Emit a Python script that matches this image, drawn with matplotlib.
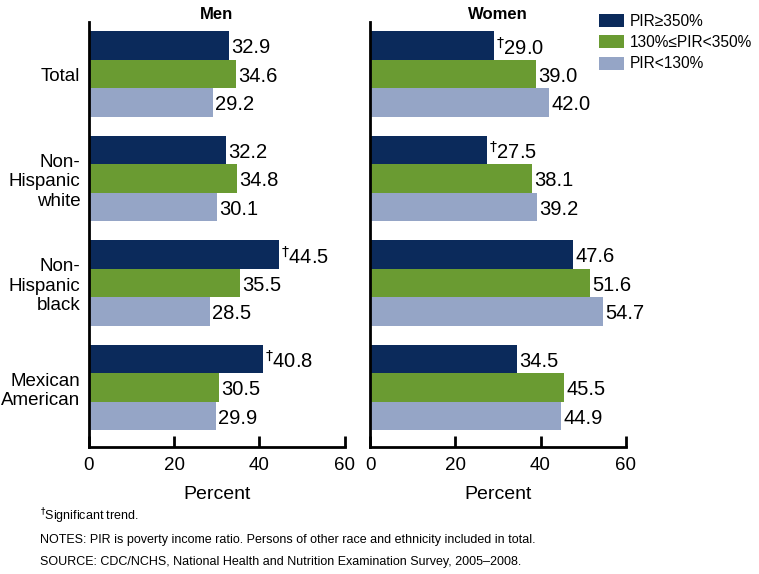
import numpy as np
import matplotlib

matplotlib.use("Agg")

import matplotlib.pyplot as plt
from matplotlib.patches import Patch

plt.rcParams["font.family"] = ["Liberation Sans", "DejaVu Sans"]

groups = ["Total", "Non-\nHispanic\nwhite", "Non-\nHispanic\nblack", "Mexican\nAmerican"]
series = ["PIR\u2265350%", "130%\u2264PIR<350%", "PIR<130%"]
colors = ["#0b2a5b", "#6a9b32", "#95a5c6"]

men = [
    [32.9, 32.2, 44.5, 40.8],
    [34.6, 34.8, 35.5, 30.5],
    [29.2, 30.1, 28.5, 29.9],
]
women = [
    [29.0, 27.5, 47.6, 34.5],
    [39.0, 38.1, 51.6, 45.5],
    [42.0, 39.2, 54.7, 44.9],
]
# True where the value has a significant trend (dagger)
men_sig = [[False, False, True, True], [False] * 4, [False] * 4]
women_sig = [[True, True, False, False], [False] * 4, [False] * 4]

fig = plt.figure(figsize=(7.59, 5.74), dpi=100)
ax_m = fig.add_axes([0.117, 0.221, 0.337, 0.741])
ax_w = fig.add_axes([0.4875, 0.221, 0.337, 0.741])

bar_h = 0.273
y = np.arange(len(groups))

for ax, data, sig, title in [(ax_m, men, men_sig, "Men"), (ax_w, women, women_sig, "Women")]:
    for i, (vals, col) in enumerate(zip(data, colors)):
        pos = y + (i - 1) * bar_h
        ax.barh(pos, vals, height=bar_h, color=col, edgecolor="none")
        for p, v, s in zip(pos, vals, sig[i]):
            lab = f"{v:.1f}"
            if s:
                lab = r"$^{\dagger}$" + lab
            ax.text(v + 0.5, p + 0.02, lab, va="center", ha="left", fontsize=14.5)
    ax.set_xlim(0, 60)
    ax.set_ylim(3.57, -0.5)
    ax.set_xticks([0, 20, 40, 60])
    ax.tick_params(axis="x", direction="in", length=8, width=2, labelsize=13.5, pad=7)
    ax.spines["top"].set_visible(False)
    ax.spines["right"].set_visible(False)
    ax.spines["left"].set_linewidth(2)
    ax.spines["bottom"].set_linewidth(2)
    ax.set_xlabel("Percent", fontsize=14, labelpad=9)
    ax.set_title(title, fontsize=12, fontweight="bold", pad=2)

ax_m.set_yticks(y)
ax_m.set_yticklabels(groups, fontsize=13.5)
ax_m.tick_params(axis="y", length=0, pad=6)
ax_w.set_yticks([])

handles = [Patch(facecolor=c, edgecolor="none") for c in colors]
fig.legend(handles, series, loc="upper left", bbox_to_anchor=(0.771, 1.0),
           frameon=False, fontsize=11.2, handlelength=1.6, handleheight=0.9,
           handletextpad=0.35, labelspacing=0.4)

fig.text(0.053, 0.094, r"$^{\dagger}$Significant trend.", fontsize=9)
fig.text(0.053, 0.054, "NOTES: PIR is poverty income ratio. Persons of other race and ethnicity included in total.", fontsize=9)
fig.text(0.053, 0.016, "SOURCE: CDC/NCHS, National Health and Nutrition Examination Survey, 2005\u20132008.", fontsize=9)

fig.savefig("out.png", dpi=100)
